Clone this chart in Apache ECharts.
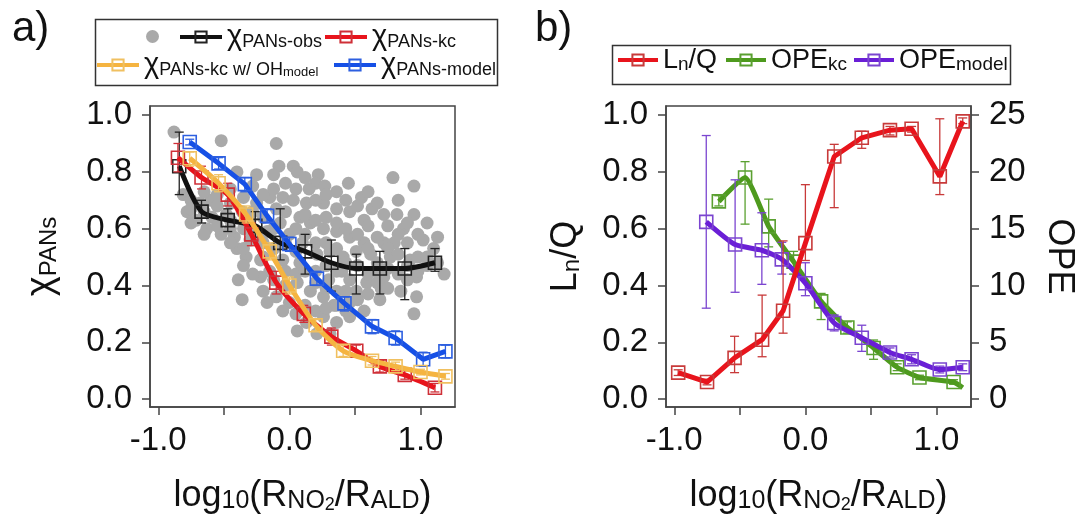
<!DOCTYPE html>
<html>
<head>
<meta charset="utf-8">
<script src="https://cdn.jsdelivr.net/npm/echarts@6/dist/echarts.min.js"></script>
<style>
html, body { margin: 0; padding: 0; background: #fff; }
#main { width: 1078px; height: 519px; }
</style>
</head>
<body>
<div id="main"></div>
<script>
// ---- panel a: individual observations (grey dots)
var obsPtsX = [-0.88,-0.52,-0.10,-0.25,-0.08,0.03,0.22,0.06,-0.12,-0.40,0.20,0.27,0.36,0.45,0.79,0.95,
  -0.81,-0.68,-0.71,-0.63,-0.52,-0.42,-0.59,-0.48,-0.36,-0.25,-0.15,-0.05,0.03,0.13,0.26,0.36,0.46,0.63,
  0.57,0.72,0.82,0.95,0.87,1.02,1.10,1.18,0.97,0.72,0.57,0.46,0.36,0.26,0.16,0.08,-0.17,-0.07,-0.30,
  -0.40,-0.33,-0.22,-0.15,-0.05,0.08,0.21,0.31,0.41,0.51,0.62,0.77,0.92,0.72,0.59,0.46,0.36,0.26,0.16,
  0.06,0.00,0.13,0.26,0.34,0.46,0.57,0.69,0.85,0.97,0.95,0.36,0.21,0.06,-0.05,-0.17,-0.36,-0.39,-0.22,
  -0.10,0.51,0.46,0.31,-0.78,-0.60,-0.45,-0.30,0.00,0.10,0.20,0.40,0.65,0.80,0.90,0.30,-0.10,0.15,0.55,0.70,
  -0.75,-0.75,-0.75,-0.65,-0.65,-0.65,-0.55,-0.55,-0.55,-0.45,-0.45,-0.45,-0.45,-0.35,-0.35,-0.35,-0.35,
  -0.28,-0.28,-0.28,-0.28,-0.20,-0.20,-0.20,-0.20,-0.20,-0.12,-0.12,-0.12,-0.12,-0.03,-0.03,-0.03,-0.03,-0.03,
  0.05,0.05,0.05,0.05,0.05,0.12,0.12,0.12,0.12,0.12,0.20,0.20,0.20,0.20,0.20,0.28,0.28,0.28,0.28,0.28,0.28,
  0.36,0.36,0.36,0.36,0.43,0.43,0.43,0.43,0.43,0.52,0.52,0.52,0.52,0.60,0.60,0.60,0.60,0.60,
  0.67,0.67,0.67,0.67,0.75,0.75,0.75,0.75,0.83,0.83,0.83,0.83,0.90,0.90,0.90,0.98,0.98,0.98,
  1.05,1.05,1.05,1.13,1.13];
var obsPtsY = [0.94,0.91,0.90,0.79,0.82,0.82,0.79,0.80,0.79,0.80,0.76,0.75,0.73,0.76,0.78,0.75,
  0.72,0.69,0.63,0.60,0.58,0.57,0.64,0.65,0.66,0.69,0.71,0.71,0.70,0.69,0.69,0.67,0.66,0.67,
  0.63,0.65,0.65,0.65,0.60,0.56,0.53,0.44,0.43,0.55,0.55,0.57,0.59,0.60,0.62,0.64,0.59,0.62,0.63,
  0.53,0.50,0.49,0.45,0.49,0.48,0.51,0.52,0.50,0.52,0.51,0.50,0.49,0.43,0.41,0.42,0.38,0.36,0.38,
  0.41,0.34,0.27,0.29,0.33,0.34,0.31,0.35,0.38,0.36,0.30,0.27,0.23,0.24,0.31,0.34,0.35,0.42,0.43,
  0.36,0.38,0.29,0.23,0.66,0.70,0.60,0.56,0.58,0.55,0.45,0.45,0.45,0.55,0.42,0.42,0.67,0.74,0.71,0.39,
  0.70,0.62,0.67,0.73,0.66,0.58,0.68,0.61,0.72,0.69,0.63,0.55,0.74,0.71,0.60,0.53,0.47,
  0.66,0.58,0.44,0.75,0.72,0.64,0.55,0.50,0.38,0.74,0.60,0.53,0.42,0.76,0.66,0.55,0.45,0.40,
  0.74,0.60,0.52,0.44,0.30,0.78,0.65,0.58,0.45,0.33,0.70,0.63,0.55,0.41,0.31,0.72,0.64,0.55,0.47,0.39,0.32,
  0.62,0.53,0.45,0.33,0.70,0.60,0.48,0.38,0.31,0.68,0.58,0.47,0.35,0.73,0.61,0.53,0.44,0.37,
  0.69,0.57,0.48,0.41,0.61,0.53,0.46,0.39,0.70,0.58,0.51,0.44,0.62,0.55,0.47,0.58,0.50,0.45,
  0.62,0.50,0.47,0.57,0.48];

// ---- panel a: binned curves
var obsX   = [-0.84,-0.67,-0.47,-0.26,-0.07,0.12,0.32,0.51,0.69,0.88,1.11];
var obsY   = [0.82,0.66,0.63,0.61,0.55,0.52,0.48,0.46,0.46,0.46,0.48];
var obsLo  = [0.72,0.62,0.59,0.57,0.49,0.44,0.38,0.37,0.37,0.35,0.45];
var obsHi  = [0.94,0.70,0.67,0.66,0.67,0.58,0.56,0.51,0.52,0.53,0.53];

var kcX    = [-0.85,-0.67,-0.47,-0.29,-0.10,0.11,0.32,0.51,0.69,0.88,1.11];
var kcY    = [0.85,0.78,0.72,0.58,0.41,0.30,0.22,0.17,0.115,0.085,0.04];
var kcLo   = [0.80,0.74,0.68,0.54,0.37,0.27,0.19,0.15,0.095,0.07,0.025];
var kcHi   = [0.90,0.82,0.76,0.62,0.45,0.33,0.25,0.19,0.135,0.10,0.055];

var kcOhX  = [-0.76,-0.54,-0.33,-0.15,0.00,0.20,0.41,0.63,0.81,1.00,1.19];
var kcOhY  = [0.848,0.76,0.65,0.52,0.40,0.26,0.17,0.135,0.115,0.095,0.08];
var kcOhLo = [0.82,0.73,0.62,0.49,0.37,0.24,0.15,0.12,0.10,0.085,0.07];
var kcOhHi = [0.87,0.79,0.68,0.55,0.43,0.28,0.19,0.15,0.13,0.105,0.09];

var modX   = [-0.76,-0.54,-0.34,-0.17,0.00,0.21,0.42,0.63,0.81,1.02,1.19];
var modY   = [0.905,0.83,0.757,0.645,0.546,0.424,0.337,0.256,0.215,0.14,0.168];
var modLo  = [0.895,0.81,0.73,0.62,0.52,0.40,0.31,0.23,0.19,0.115,0.145];
var modHi  = [0.915,0.85,0.78,0.67,0.57,0.45,0.36,0.28,0.24,0.165,0.19];

// ---- panel b
var lnqX   = [-0.97,-0.75,-0.54,-0.33,-0.17,0.00,0.22,0.43,0.645,0.81,1.025,1.20];
var lnqY   = [0.093,0.06,0.145,0.209,0.311,0.549,0.854,0.92,0.947,0.952,0.784,0.978];
var lnqLo  = [0.083,0.05,0.093,0.149,0.232,0.488,0.674,0.883,0.93,0.94,0.72,0.97];
var lnqHi  = [0.103,0.07,0.221,0.366,0.557,0.755,0.897,0.943,0.96,0.96,0.987,0.99];

var opeKcX  = [-0.66,-0.46,-0.28,-0.09,0.12,0.32,0.52,0.70,0.87,1.13,1.20];
var opeKcY  = [17.4,19.5,15.2,12.1,8.6,6.3,4.5,2.8,1.9,1.5,1.0];
var opeKcLo = [17.0,15.4,13.4,11.0,7.0,5.8,3.5,2.5,1.7,1.3,null];
var opeKcHi = [17.9,20.9,17.6,13.0,9.3,6.8,5.2,3.1,2.1,1.7,null];

var opeModX  = [-0.756,-0.536,-0.332,-0.18,0.00,0.22,0.43,0.645,0.81,1.025,1.20];
var opeModY  = [15.6,13.6,13.1,12.3,10.2,6.7,5.4,4.1,3.5,2.6,2.8];
var opeModLo = [8.0,9.4,10.1,11.0,9.1,6.0,4.2,3.7,3.1,2.3,2.5];
var opeModHi = [23.2,19.3,16.4,13.8,12.0,7.4,6.5,4.5,3.9,2.9,3.1];

// ---- axes
var xTicks = [-1, -0.5, 0, 0.5, 1];
var xLabels = [-1, 0, 1];
var yTicks = [0, 0.2, 0.4, 0.6, 0.8, 1.0];
var opeTicks = [0, 5, 10, 15, 20, 25];

var FONT = '"Liberation Sans", Arial, Helvetica, sans-serif';
var AX = '#444';

var legendNames = {
  obsPts: '',
  obs: '{c|χ}{s|PANs-obs}',
  kc: '{c|χ}{s|PANs-kc}',
  kcOh: '{c|χ}{s|PANs-kc w/ OH}{ss|model}',
  mod: '{c|χ}{s|PANs-model}',
  lnq: '{m|L}{n|n}{m|/Q}',
  opeKc: '{m|OPE}{n|kc}',
  opeMod: '{m|OPE}{n|model}'
};

function pairs(xs, ys) {
  return xs.map(function (x, i) { return [x, ys[i]]; });
}

function renderErr(params, api) {
  var x = api.value(0);
  var a = api.coord([x, api.value(1)]);
  var b = api.coord([x, api.value(2)]);
  var w = 4.5;
  var st = { stroke: api.visual('color'), lineWidth: 1.3 };
  return {
    type: 'group',
    children: [
      { type: 'line', shape: { x1: a[0], y1: a[1], x2: b[0], y2: b[1] }, style: st },
      { type: 'line', shape: { x1: a[0] - w, y1: a[1], x2: a[0] + w, y2: a[1] }, style: st },
      { type: 'line', shape: { x1: b[0] - w, y1: b[1], x2: b[0] + w, y2: b[1] }, style: st }
    ]
  };
}

function errSeries(xi, yi, xs, lo, hi, color, z) {
  var data = [];
  xs.forEach(function (x, i) { if (lo[i] != null) data.push([x, lo[i], hi[i]]); });
  return {
    type: 'custom', xAxisIndex: xi, yAxisIndex: yi, z: z, silent: true,
    itemStyle: { color: color },
    encode: { x: 0, y: [1, 2] },
    renderItem: renderErr,
    data: data
  };
}

function lineSeries(name, xi, yi, xs, ys, lineColor, boxColor, smooth, z) {
  return {
    name: name, type: 'line', xAxisIndex: xi, yAxisIndex: yi, z: z,
    data: pairs(xs, ys),
    smooth: smooth,
    symbol: 'rect', symbolSize: 13,
    lineStyle: { color: lineColor, width: 5 },
    itemStyle: { color: 'rgba(255,255,255,0)', borderColor: boxColor, borderWidth: 1.6 },
    emphasis: { disabled: true }
  };
}

function xAxisOf(grid) {
  return {
    type: 'value', gridIndex: grid, min: -1.063, max: 1.263,
    axisLine: { show: true, onZero: false, lineStyle: { color: AX, width: 1.5 } },
    axisTick: { show: true, length: 8, customValues: xTicks, lineStyle: { color: AX, width: 1.5 } },
    axisLabel: { customValues: xLabels, formatter: function (v) { return v.toFixed(1); },
      fontSize: 33, color: '#111', fontFamily: FONT, margin: 17 },
    splitLine: { show: false },
    name: '{m|log}{s|10}{m|(R}{s|NO}{ss|2}{m|/R}{s|ALD}{m|)}',
    nameLocation: 'middle', nameGap: 59,
    nameTextStyle: {
      color: '#111', fontFamily: FONT,
      rich: {
        m: { fontSize: 36, lineHeight: 48, verticalAlign: 'bottom', fontFamily: FONT, color: '#111' },
        s: { fontSize: 25, lineHeight: 26, verticalAlign: 'bottom', fontFamily: FONT, color: '#111' },
        ss: { fontSize: 18, lineHeight: 11, verticalAlign: 'bottom', fontFamily: FONT, color: '#111' }
      }
    }
  };
}

function yAxisOf(grid, pos, min, max, ticks, fmt, name, gap, rotate, rich) {
  return {
    type: 'value', gridIndex: grid, position: pos, min: min, max: max,
    axisLine: { show: true, onZero: false, lineStyle: { color: AX, width: 1.5 } },
    axisTick: { show: true, length: 8, customValues: ticks, lineStyle: { color: AX, width: 1.5 } },
    axisLabel: { customValues: ticks, formatter: fmt, fontSize: 33, color: '#111', fontFamily: FONT, margin: 18 },
    splitLine: { show: false },
    name: name, nameLocation: 'middle', nameGap: gap, nameRotate: rotate,
    nameTextStyle: { color: '#111', fontFamily: FONT, fontSize: 36, rich: rich }
  };
}

var chiRich = {
  c: { fontSize: 38, lineHeight: 40, verticalAlign: 'bottom', fontFamily: FONT, color: '#111' },
  s: { fontSize: 24, lineHeight: 17, verticalAlign: 'bottom', fontFamily: FONT, color: '#111' }
};
var lnqRich = {
  m: { fontSize: 36, lineHeight: 40, verticalAlign: 'bottom', fontFamily: FONT, color: '#111' },
  n: { fontSize: 24, lineHeight: 17, verticalAlign: 'bottom', fontFamily: FONT, color: '#111' }
};

var legendRich = {
  c: { fontSize: 29, lineHeight: 28, verticalAlign: 'bottom', fontFamily: FONT, color: '#111' },
  s: { fontSize: 18, lineHeight: 12, verticalAlign: 'bottom', fontFamily: FONT, color: '#111' },
  ss: { fontSize: 13, lineHeight: 4, verticalAlign: 'bottom', fontFamily: FONT, color: '#111' },
  m: { fontSize: 27, lineHeight: 28, verticalAlign: 'bottom', fontFamily: FONT, color: '#111' },
  n: { fontSize: 19, lineHeight: 12, verticalAlign: 'bottom', fontFamily: FONT, color: '#111' }
};

function legendOf(name, left, top, w, h) {
  return {
    data: [name], left: left, top: top, padding: 0, itemGap: 0,
    itemWidth: w, itemHeight: h, selectedMode: false,
    lineStyle: { width: 4 },
    formatter: function (n) { return legendNames[n]; },
    textStyle: { fontFamily: FONT, color: '#111', rich: legendRich }
  };
}

var fmt1 = function (v) { return v.toFixed(1); };
var fmt0 = function (v) { return String(v); };

var chart = echarts.init(document.getElementById('main'), null, { renderer: 'canvas' });

var option = {
  animation: false,
  backgroundColor: '#fff',
  grid: [
    { left: 150, top: 106, width: 305, height: 304, show: true, borderColor: AX, borderWidth: 1.5, backgroundColor: 'transparent' },
    { left: 666, top: 106, width: 306, height: 304, show: true, borderColor: AX, borderWidth: 1.5, backgroundColor: 'transparent' }
  ],
  xAxis: [xAxisOf(0), xAxisOf(1)],
  yAxis: [
    yAxisOf(0, 'left', -0.028, 1.032, yTicks, fmt1, '{c|χ}{s|PANs}', 89, 90, chiRich),
    yAxisOf(1, 'left', -0.028, 1.032, yTicks, fmt1, '{m|L}{n|n}{m|/Q}', 82, 90, lnqRich),
    yAxisOf(1, 'right', -0.7, 25.8, opeTicks, fmt0, 'OPE', 70, -90, null)
  ],
  legend: [
    legendOf('obsPts', 146, 30, 13, 13),
    legendOf('obs', 178, 22, 42, 14),
    legendOf('kc', 323, 22, 42, 14),
    legendOf('kcOh', 95, 50, 42, 14),
    legendOf('mod', 332, 50, 42, 14),
    legendOf('lnq', 616, 47, 40, 14),
    legendOf('opeKc', 724, 47, 40, 14),
    legendOf('opeMod', 852, 47, 40, 14)
  ],
  graphic: [
    { type: 'text', left: 12, top: 8, style: { text: 'a)', fontSize: 42, fontFamily: FONT, fill: '#111' } },
    { type: 'text', left: 535, top: 8, style: { text: 'b)', fontSize: 42, fontFamily: FONT, fill: '#111' } },
    { type: 'rect', left: 93, top: 17, shape: { width: 402, height: 66 }, style: { fill: 'none', stroke: '#333', lineWidth: 1.5 }, z: 100 },
    { type: 'rect', left: 610, top: 43, shape: { width: 398, height: 39 }, style: { fill: 'none', stroke: '#333', lineWidth: 1.5 }, z: 100 }
  ],
  series: [
    {
      name: 'obsPts', type: 'scatter', xAxisIndex: 0, yAxisIndex: 0, z: 1,
      data: pairs(obsPtsX, obsPtsY), symbolSize: 13,
      itemStyle: { color: '#a9a9a9', opacity: 1 }, emphasis: { disabled: true }
    },
    errSeries(0, 0, obsX, obsLo, obsHi, '#222', 3),
    lineSeries('obs', 0, 0, obsX, obsY, '#111', '#222', 0.25, 3),
    errSeries(0, 0, modX, modLo, modHi, '#2d5fe0', 4),
    lineSeries('mod', 0, 0, modX, modY, '#1650e6', '#2d5fe0', 0, 4),
    errSeries(0, 0, kcX, kcLo, kcHi, '#cf3038', 5),
    lineSeries('kc', 0, 0, kcX, kcY, '#e8141c', '#cf3038', 0.25, 5),
    errSeries(0, 0, kcOhX, kcOhLo, kcOhHi, '#f0c060', 6),
    lineSeries('kcOh', 0, 0, kcOhX, kcOhY, '#f5b441', '#f0c060', 0.25, 6),

    errSeries(1, 1, lnqX, lnqLo, lnqHi, '#c83a3a', 5),
    lineSeries('lnq', 1, 1, lnqX, lnqY, '#e8141c', '#c83a3a', 0, 5),
    errSeries(1, 2, opeKcX, opeKcLo, opeKcHi, '#5aa030', 3),
    (function () {
      var s = lineSeries('opeKc', 1, 2, opeKcX, opeKcY, '#4e9a1e', '#5aa030', 0.15, 3);
      s.data[s.data.length - 1] = { value: s.data[s.data.length - 1], symbol: 'none' };
      return s;
    })(),
    errSeries(1, 2, opeModX, opeModLo, opeModHi, '#7b45d0', 4),
    lineSeries('opeMod', 1, 2, opeModX, opeModY, '#6a1fd6', '#7b45d0', 0.2, 4)
  ]
};

chart.setOption(option);
</script>
</body>
</html>
